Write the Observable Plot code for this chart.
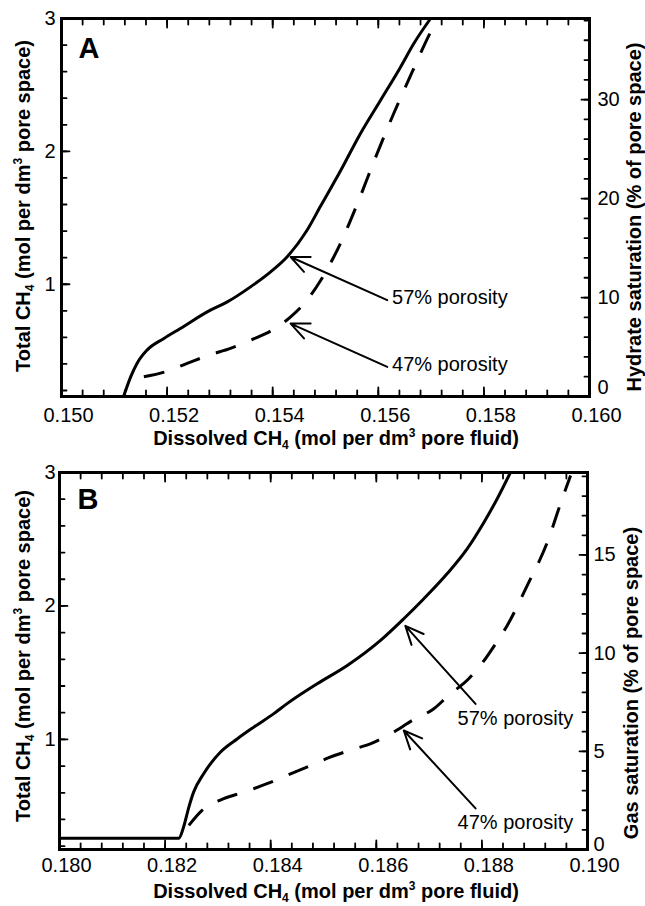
<!DOCTYPE html>
<html>
<head>
<meta charset="utf-8">
<script src="https://cdn.jsdelivr.net/npm/d3@7"></script>
<script src="https://cdn.jsdelivr.net/npm/@observablehq/plot@0.6"></script>
<style>
  html, body { margin: 0; padding: 0; background: #fff; }
  #chart { width: 645px; }
  #chart svg { display: block; }
</style>
</head>
<body>
<div id="chart"></div>
<script>
// ---- Panel A: hydrate stability field ----
const dissolvedA57 = [0.15118, 0.15131, 0.15143, 0.15162, 0.15194, 0.15225, 0.15282, 0.15314, 0.15358, 0.15396, 0.15427, 0.15465, 0.15491, 0.15528, 0.15566, 0.15604, 0.15642, 0.15667, 0.15699];
const totalA57     = [0.160,   0.303,   0.404,   0.504,   0.592,   0.667,   0.805,   0.867,   0.980,   1.093,   1.205,   1.406,   1.590,   1.850,   2.133,   2.383,   2.634,   2.810,   3.000];
const dissolvedA47 = [0.15156, 0.15197, 0.15238, 0.15279, 0.15320, 0.15358, 0.15399, 0.15434, 0.15465, 0.15491, 0.15525, 0.15563, 0.15595, 0.15629, 0.15664, 0.15699, 0.15706];
const totalA47     = [0.303,   0.341,   0.404,   0.466,   0.517,   0.579,   0.654,   0.754,   0.880,   1.030,   1.280,   1.632,   1.957,   2.283,   2.596,   2.897,   2.950];

// ---- Panel B: free gas field ----
const dissolvedB57 = [0.18000, 0.18226, 0.18235, 0.18245, 0.18254, 0.18273, 0.18305, 0.18337, 0.18368, 0.18406, 0.18431, 0.18488, 0.18545, 0.18608, 0.18652, 0.18690, 0.18734, 0.18772, 0.18804, 0.18829, 0.18854];
const totalB57     = [0.260,   0.260,   0.343,   0.493,   0.605,   0.743,   0.905,   1.005,   1.092,   1.193,   1.268,   1.417,   1.554,   1.742,   1.904,   2.054,   2.241,   2.428,   2.628,   2.803,   3.000];
const dissolvedB47 = [0.18245, 0.18270, 0.18311, 0.18349, 0.18393, 0.18431, 0.18472, 0.18510, 0.18554, 0.18592, 0.18633, 0.18668, 0.18709, 0.18737, 0.18775, 0.18797, 0.18826, 0.18848, 0.18886, 0.18924, 0.18952, 0.18968];
const totalB47     = [0.356,   0.468,   0.556,   0.605,   0.668,   0.731,   0.798,   0.863,   0.923,   0.972,   1.055,   1.142,   1.230,   1.330,   1.455,   1.554,   1.717,   1.854,   2.154,   2.478,   2.803,   2.978];

// ---- Axis ticks ----
const xTicksA = [0.150, 0.152, 0.154, 0.156, 0.158, 0.160];
const xTicksB = [0.180, 0.182, 0.184, 0.186, 0.188, 0.190];
const totalTicks = [1, 2, 3];
const satTicksA = [0, 10, 20, 30];
const satTicksB = [0, 5, 10, 15];

// ---- Annotations ----
const porosityLabels = ["57% porosity", "47% porosity"];
const labelXA = [0.15626, 0.15626], labelYA = [0.897, 0.396];
const tipXA = [0.15434, 0.15434], tipYA = [1.205, 0.704];
const tailXA = [0.15617, 0.15617], tailYA = [0.880, 0.378];
const labelXB = [0.18754, 0.18754], labelYB = [1.157, 0.373];
const tipXB = [0.18655, 0.18652], tipYB = [1.851, 1.067];
const tailXB = [0.18788, 0.18788], tailYB = [1.266, 0.483];

const FONT = "'Liberation Sans', Arial, Helvetica, sans-serif";

function pairs(xs, ys) { return xs.map((x, i) => [x, ys[i]]); }

function panel(o) {
  const [mt, mr, mb, ml] = o.margin;
  const innerW = 645 - ml - mr;
  const innerH = 453 - mt - mb;
  const [x0, x1] = o.xDomain, [y0, y1] = o.yDomain;
  // tick lengths expressed in data units of each scale
  const dxPx = (x1 - x0) / innerW, dyPx = (y1 - y0) / innerH;
  const sat = d3.scaleLinear().domain([0, o.satMax]).range(o.yDomain);
  const xMinor = d3.range(0, 26).map(i => x0 + i * 0.0004);
  const yMinor = d3.range(1, 15).map(i => i * 0.2).filter(v => v > y0);
  const satMinor = d3.range(0, Math.floor(o.satMax / o.satStep) + 1).map(i => sat(i * o.satStep));
  const satMajor = o.satTicks.map(sat);
  const idx = [0, 1];
  // inward ticks on all four sides, each a short two-point line
  const tickPaths = [];
  const addX = (vals, len) => vals.forEach(v => {
    tickPaths.push([[v, y0], [v, y0 + len * dyPx]]);
    tickPaths.push([[v, y1], [v, y1 - len * dyPx]]);
  });
  const addY = (vals, len, xa, sgn) => vals.forEach(v => tickPaths.push([[xa, v], [xa + sgn * len * dxPx, v]]));
  addX(xMinor, 6); addX(o.xTicks, 9);
  addY(yMinor, 5, x0, 1); addY(totalTicks, 8, x0, 1);
  addY(satMinor, 5, x1, -1); addY(satMajor, 8, x1, -1);
  const tickMarks = tickPaths.map(p => Plot.line(p, {stroke: "#000", strokeWidth: 1.8}));
  return Plot.plot({
    width: 645,
    height: 453,
    marginTop: mt, marginRight: mr, marginBottom: mb, marginLeft: ml,
    x: {domain: o.xDomain},
    y: {domain: o.yDomain},
    style: {fontFamily: FONT, fontSize: "20px", color: "#000", background: "#fff"},
    marks: [
      // tick labels
      Plot.axisX(o.xTicks, {anchor: "bottom", tickSize: 0, tickPadding: o.pad[0], dx: 7, fontSize: 20, label: null, tickFormat: d3.format(".3f")}),
      Plot.axisY(totalTicks, {anchor: "left", tickSize: 0, tickPadding: o.pad[1], fontSize: 20, label: null, tickFormat: d3.format("d")}),
      Plot.axisY(satMajor.slice(1), {anchor: "right", tickSize: 0, tickPadding: o.pad[2], fontSize: 20, label: null,
        tickFormat: d => String(Math.round(sat.invert(d)))}),
      Plot.axisY(satMajor.slice(0, 1), {anchor: "right", tickSize: 0, tickPadding: o.pad[2], dy: o.zeroDy, fontSize: 20, label: null,
        tickFormat: d => String(Math.round(sat.invert(d)))}),
      // curves
      Plot.line(o.solid, {stroke: "#000", strokeWidth: 3, curve: "monotone-x"}),
      Plot.line(o.dashed, {stroke: "#000", strokeWidth: 3, strokeDasharray: "21,17", strokeLinecap: "butt", curve: "monotone-x"}),
      // arrows and porosity labels
      Plot.arrow(idx, {x1: i => o.tailX[i], y1: i => o.tailY[i], x2: i => o.tipX[i], y2: i => o.tipY[i],
        stroke: "#000", strokeWidth: 2, headLength: 15, headAngle: 48}),
      Plot.text(idx, {x: i => o.labelX[i], y: i => o.labelY[i], text: i => porosityLabels[i],
        textAnchor: "start", lineAnchor: "middle", fontSize: 20, fill: "#000"}),
      // panel letter
      Plot.text([o.letter], {frameAnchor: "top-left", dx: o.letterDx, dy: o.letterDy, lineAnchor: "bottom",
        textAnchor: "start", fontSize: 29, fontWeight: "bold", fill: "#000"}),
      Plot.frame({stroke: "#000", strokeWidth: 3}),
      ...tickMarks
    ]
  });
}

function richText(svg, x, y, angle, parts) {
  const t = d3.select(svg).append("text")
    .attr("transform", `translate(${x},${y}) rotate(${angle})`)
    .attr("text-anchor", "middle")
    .attr("font-family", FONT)
    .attr("font-size", 20)
    .attr("font-weight", "bold")
    .attr("fill", "#000");
  let shift = 0;
  for (const [s, kind] of parts) {
    const target = kind === "sub" ? 4 : kind === "sup" ? -8 : 0;
    const ts = t.append("tspan").attr("dy", target - shift).text(s);
    if (kind) ts.attr("font-size", 12);
    shift = target;
  }
}

const xTitle = [["Dissolved CH"], ["4", "sub"], [" (mol per dm"], ["3", "sup"], [" pore fluid)"]];
const yTitle = [["Total CH"], ["4", "sub"], [" (mol per dm"], ["3", "sup"], [" pore space)"]];

const chartA = panel({
  xDomain: [0.150, 0.160], yDomain: [0.155, 3], satMax: 38.2, satStep: 2,
  xTicks: xTicksA, satTicks: satTicksA,
  margin: [18, 56, 57, 61], pad: [11, 6, 8], zeroDy: -9,
  solid: pairs(dissolvedA57, totalA57), dashed: pairs(dissolvedA47, totalA47),
  tipX: tipXA, tipY: tipYA, tailX: tailXA, tailY: tailYA, labelX: labelXA, labelY: labelYA,
  letter: "A", letterDx: 17, letterDy: 39
});
richText(chartA, 336, 445, 0, xTitle);
richText(chartA, 30, 206, -90, yTitle);
richText(chartA, 641, 217, -90, [["Hydrate saturation (% of pore space)"]]);

const chartB = panel({
  xDomain: [0.180, 0.190], yDomain: [0.175, 3], satMax: 19.2, satStep: 1,
  xTicks: xTicksB, satTicks: satTicksB,
  margin: [19, 58, 57, 59], pad: [8, 4, 6], zeroDy: -5,
  solid: pairs(dissolvedB57, totalB57), dashed: pairs(dissolvedB47, totalB47),
  tipX: tipXB, tipY: tipYB, tailX: tailXB, tailY: tailYB, labelX: labelXB, labelY: labelYB,
  letter: "B", letterDx: 18, letterDy: 36
});
richText(chartB, 336, 445, 0, xTitle);
richText(chartB, 30, 203, -90, yTitle);
richText(chartB, 638, 230, -90, [["Gas saturation (% of pore space)"]]);

document.getElementById("chart").append(chartA, chartB);
</script>
</body>
</html>
